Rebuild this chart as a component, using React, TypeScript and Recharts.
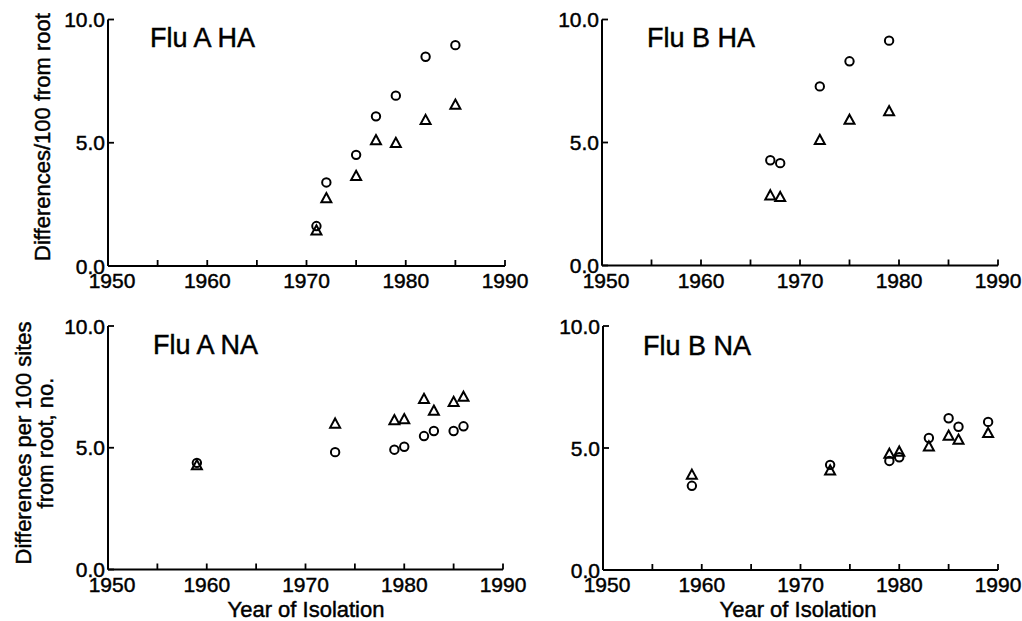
import React from 'react';
import { ScatterChart, Scatter, XAxis, YAxis } from 'recharts';

// ---------- data ----------
const xTicks = [1950, 1955, 1960, 1965, 1970, 1975, 1980, 1985, 1990];
const yTicks = [0, 5, 10];

const fluAHAYears = [1971, 1972, 1975, 1977, 1979, 1982, 1985];
const fluAHACircles = [1.62, 3.39, 4.51, 6.07, 6.91, 8.49, 8.96];
const fluAHATriangles = [1.44, 2.75, 3.65, 5.1, 4.99, 5.92, 6.54];

const fluBHAYears = [1967, 1968, 1972, 1975, 1979];
const fluBHACircles = [4.28, 4.16, 7.28, 8.3, 9.14];
const fluBHATriangles = [2.85, 2.78, 5.1, 5.92, 6.27];

const fluANAYears = [1959, 1973, 1979, 1980, 1982, 1983, 1985, 1986];
const fluANACircles = [4.38, 4.82, 4.92, 5.04, 5.48, 5.69, 5.69, 5.88];
const fluANATriangles = [4.28, 5.99, 6.13, 6.17, 7.0, 6.52, 6.88, 7.09];

const fluBNAYears = [1959, 1973, 1979, 1980, 1983, 1985, 1986, 1989];
const fluBNACircles = [3.45, 4.31, 4.47, 4.62, 5.41, 6.22, 5.87, 6.07];
const fluBNATriangles = [3.9, 4.08, 4.76, 4.85, 5.06, 5.5, 5.34, 5.61];

const titles = ['Flu A HA', 'Flu B HA', 'Flu A NA', 'Flu B NA'];
const xTitle = 'Year of Isolation';
const yTitleTop = 'Differences/100 from root';
const yTitleBottom = ['Differences per 100 sites', 'from root, no.'];

// ---------- styling ----------
const FONT = '"Liberation Sans", Arial, Helvetica, sans-serif';
const INK = '#000';
const TEXT_STROKE = 0.45;

const toPoints = (years: number[], vals: number[]) =>
  years.map((year, i) => ({ year, value: vals[i] }));

const CircleMark = (props: any) => {
  const { cx, cy } = props;
  if (cx == null || cy == null) return null;
  return <circle cx={cx} cy={cy} r={4.2} fill="none" stroke={INK} strokeWidth={2} />;
};

const TriangleMark = (props: any) => {
  const { cx, cy } = props;
  if (cx == null || cy == null) return null;
  const d = `M${cx},${cy - 5.2} L${cx + 5},${cy + 4} L${cx - 5},${cy + 4} Z`;
  return <path d={d} fill="none" stroke={INK} strokeWidth={2} strokeLinejoin="miter" />;
};

const XTick = (props: any) => {
  const { x, y, payload } = props;
  const v = payload.value as number;
  return (
    <g>
      <line x1={x} x2={x} y1={y} y2={y - 6} stroke={INK} strokeWidth={1.8} />
      {v % 10 === 0 && (
        <text
          x={x + (v === 1950 ? 4 : 0)}
          y={y + 22}
          textAnchor="middle"
          fontSize={21}
          fontFamily={FONT}
          fill={INK}
          stroke={INK}
          strokeWidth={TEXT_STROKE}
        >
          {v}
        </text>
      )}
    </g>
  );
};

const YTick = (props: any) => {
  const { x, y, payload } = props;
  const v = payload.value as number;
  return (
    <g>
      <line x1={x} x2={x + 6} y1={y} y2={y} stroke={INK} strokeWidth={1.8} />
      <text
        x={x - 3}
        y={y}
        dy="0.36em"
        textAnchor="end"
        fontSize={21}
        fontFamily={FONT}
        fill={INK}
        stroke={INK}
        strokeWidth={TEXT_STROKE}
      >
        {v.toFixed(1)}
      </text>
    </g>
  );
};

type PanelProps = {
  left: number;
  top: number;
  width: number;
  height: number;
  margin: { top: number; right: number; bottom: number; left: number };
  years: number[];
  circles: number[];
  triangles: number[];
  children?: React.ReactNode;
};

const Panel = ({ left, top, width, height, margin, years, circles, triangles, children }: PanelProps) => (
  <div style={{ position: 'absolute', left, top, width, height }}>
    <ScatterChart width={width} height={height} margin={margin}>
      <XAxis
        type="number"
        dataKey="year"
        domain={[1950, 1990]}
        ticks={xTicks}
        interval={0}
        allowDataOverflow
        height={30}
        tickSize={0}
        tickMargin={0}
        tickLine={false}
        axisLine={{ stroke: INK, strokeWidth: 2 }}
        tick={<XTick />}
      />
      <YAxis
        type="number"
        dataKey="value"
        domain={[0, 10]}
        ticks={yTicks}
        interval={0}
        allowDataOverflow
        width={60}
        tickSize={0}
        tickMargin={0}
        tickLine={false}
        axisLine={{ stroke: INK, strokeWidth: 2 }}
        tick={<YTick />}
      />
      <Scatter
        data={toPoints(years, triangles)}
        shape={<TriangleMark />}
        isAnimationActive={false}
      />
      <Scatter
        data={toPoints(years, circles)}
        shape={<CircleMark />}
        isAnimationActive={false}
      />
      {children}
    </ScatterChart>
  </div>
);

const titleStyle = { fontSize: 27, fontFamily: FONT, fill: INK, stroke: INK, strokeWidth: TEXT_STROKE } as const;
const axisTitleStyle = { fontSize: 22, fontFamily: FONT, fill: INK, stroke: INK, strokeWidth: TEXT_STROKE } as const;

export default function App() {
  return (
    <div
      style={{
        position: 'absolute',
        left: 0,
        top: 0,
        width: 1022,
        height: 621,
        background: '#fff',
        overflow: 'hidden',
      }}
    >
      {/* top-left: box 0..540 */}
      <Panel
        left={0}
        top={0}
        width={540}
        height={300}
        margin={{ top: 19.5, right: 35, bottom: 4, left: 48 }}
        years={fluAHAYears}
        circles={fluAHACircles}
        triangles={fluAHATriangles}
      >
        <text x={150} y={47} style={titleStyle}>{titles[0]}</text>
        <text x={50} y={137} transform="rotate(-90 50 137)" textAnchor="middle" style={axisTitleStyle}>
          {yTitleTop}
        </text>
      </Panel>
      {/* top-right: box 482..1022 */}
      <Panel
        left={482}
        top={0}
        width={540}
        height={300}
        margin={{ top: 19.5, right: 24, bottom: 4.5, left: 60 }}
        years={fluBHAYears}
        circles={fluBHACircles}
        triangles={fluBHATriangles}
      >
        <text x={165} y={47} style={titleStyle}>{titles[1]}</text>
      </Panel>
      {/* bottom-left */}
      <Panel
        left={0}
        top={300}
        width={540}
        height={321}
        margin={{ top: 26, right: 37, bottom: 21.5, left: 48 }}
        years={fluANAYears}
        circles={fluANACircles}
        triangles={fluANATriangles}
      >
        <text x={153} y={54} style={titleStyle}>{titles[2]}</text>
        <text x={31} y={143} transform="rotate(-90 31 143)" textAnchor="middle" style={axisTitleStyle}>
          {yTitleBottom[0]}
        </text>
        <text x={53} y={143} transform="rotate(-90 53 143)" textAnchor="middle" style={axisTitleStyle}>
          {yTitleBottom[1]}
        </text>
        <text x={306} y={317} textAnchor="middle" style={axisTitleStyle}>{xTitle}</text>
      </Panel>
      {/* bottom-right */}
      <Panel
        left={482}
        top={300}
        width={540}
        height={321}
        margin={{ top: 26, right: 24, bottom: 21, left: 61 }}
        years={fluBNAYears}
        circles={fluBNACircles}
        triangles={fluBNATriangles}
      >
        <text x={161} y={55} style={titleStyle}>{titles[3]}</text>
        <text x={316} y={317} textAnchor="middle" style={axisTitleStyle}>{xTitle}</text>
      </Panel>
    </div>
  );
}
